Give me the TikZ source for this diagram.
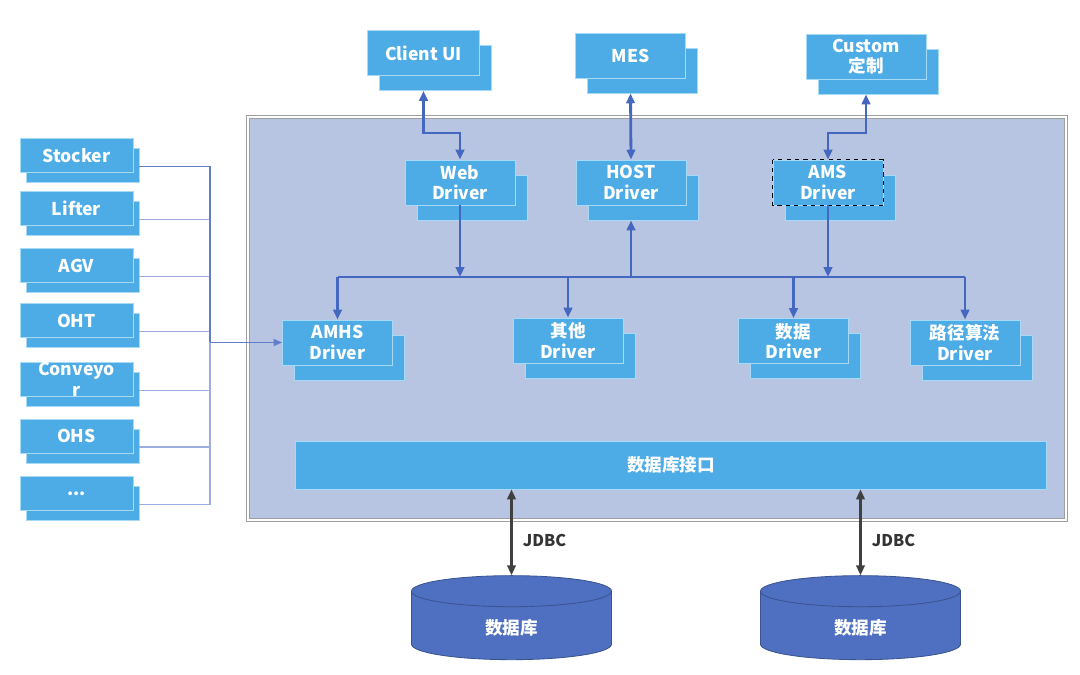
\documentclass[tikz,border=0pt]{standalone}
\usepackage{fontspec}
\setmainfont{Noto Sans CJK SC}
\usepackage{tikz}
\usetikzlibrary{positioning,arrows.meta,shapes.geometric,shadows,calc}
\usepackage{xcolor}
\definecolor{boxblue}{HTML}{4DABE6}
\definecolor{boxedge}{HTML}{A6DAF7}
\definecolor{panelblue}{HTML}{B8C5E2}
\definecolor{linkblue}{HTML}{4467BF}
\definecolor{feedblue}{HTML}{9CAEE0}
\definecolor{dbblue}{HTML}{4F70C0}

\begin{document}
\begin{tikzpicture}[x=0.025cm, y=-0.025cm,
    boxBase/.style={rectangle, fill=boxblue, draw=boxedge, line width=0.6pt, text=white, font=\fontsize{12.5}{14.5}\selectfont\bfseries, align=center, inner sep=0pt},
    unitBox/.style={boxBase, minimum width=2.75cm, minimum height=1.125cm, copy shadow={shadow xshift=0.3cm, shadow yshift=-0.375cm}},
    devBox/.style={boxBase, minimum width=2.825cm, minimum height=0.85cm, copy shadow={shadow xshift=0.15cm, shadow yshift=-0.25cm}},
    panelBox/.style={rectangle, fill=panelblue, draw=gray!75, line width=0.8pt, double=white, double distance=1.2pt, minimum width=20.45cm, minimum height=10.075cm},
    dbStore/.style={cylinder, shape border rotate=90, aspect=0.5, fill=dbblue, draw=dbblue!75!black, line width=0.6pt, text=white, font=\fontsize{12.5}{14.5}\selectfont\bfseries, minimum width=5cm, minimum height=2.1cm},
    linkArrow/.style={-{Triangle[length=7pt, width=6pt]}, line width=2pt, draw=linkblue},
    feedLine/.style={line width=0.8pt, draw=feedblue},
    jdbcArrow/.style={{Triangle[length=7pt, width=6pt]}-{Triangle[length=7pt, width=6pt]}, line width=1.6pt, draw=black!75}
]
    \useasboundingbox (0,0) rectangle (1080,675);

    % Main panel
    \node[panelBox] (core) at (657, 318.5) {};

    % Upper systems
    \node[unitBox, minimum width=2.8cm] (client) at (423.5, 53) {Client UI};
    \node[unitBox, minimum width=2.75cm] (mes) at (630.5, 55.5) {MES};
    \node[unitBox, minimum width=3cm] (custom) at (866, 56.5) {Custom\\定制};

    % Driver row 1
    \node[unitBox] (web) at (460, 182.5) {Web\\Driver};
    \node[unitBox] (host) at (631, 182.5) {HOST\\Driver};
    \node[unitBox] (ams) at (828, 182.5) {AMS\\Driver};
    \draw[black, dashed, line width=1pt] (ams.north west) rectangle (ams.south east);

    % Driver row 2
    \node[unitBox] (amhs) at (337.5, 342.5) {AMHS\\Driver};
    \node[unitBox] (other) at (568, 340.5) {其他\\Driver};
    \node[unitBox] (data) at (793.5, 341) {数据\\Driver};
    \node[unitBox] (route) at (965, 342.5) {路径算法\\Driver};

    % Database interface
    \node[boxBase, minimum width=18.75cm, minimum height=1.2cm, draw=boxedge] (dbif) at (671, 465) {数据库接口};

    % Devices
    \node[devBox] (stk) at (76.5, 155.5) {Stocker};
    \node[devBox] (lft) at (76.5, 208.5) {Lifter};
    \node[devBox] (agv) at (76.5, 265.5) {AGV};
    \node[devBox] (oht) at (76.5, 320.5) {OHT};
    \node[devBox] (cnv) at (76.5, 379.5) {Conveyo\\r};
    \node[devBox] (ohs) at (76.5, 436) {OHS};
    \node[devBox] (etc) at (76.5, 493.5) {...};

    % Databases
    \node[dbStore] (db1) at (511.5, 628) {数据库};
    \node[dbStore] (db2) at (860.5, 628) {数据库};

    \coordinate (upper) at (0, 133);
    \coordinate (busy) at (0, 277);
    \coordinate (feed) at (210, 342.5);

    % Upper links
    \draw[linkArrow, {Triangle[length=7pt, width=6pt]}-{Triangle[length=7pt, width=6pt]}] ($(client.south)+(0,15)$) |- (web.north |- upper) -- (web.north);
    \draw[linkArrow, {Triangle[length=7pt, width=6pt]}-{Triangle[length=7pt, width=6pt]}] ($(mes.south)+(0,15)$) -- (host.north);
    \draw[linkArrow, {Triangle[length=7pt, width=6pt]}-{Triangle[length=7pt, width=6pt]}] ($(custom.south)+(0,15)$) |- (ams.north |- upper) -- (ams.north);

    % Bus
    \draw[linkArrow, -] (amhs.north |- busy) -- (route.north |- busy);
    \draw[linkArrow] (web.south) -- (web.south |- busy);
    \draw[linkArrow] (host.south |- busy) -- ($(host.south)+(0,15)$);
    \draw[linkArrow] (ams.south) -- (ams.south |- busy);
    \draw[linkArrow] (amhs.north |- busy) -- (amhs.north);
    \draw[linkArrow] (other.north |- busy) -- (other.north);
    \draw[linkArrow] (data.north |- busy) -- (data.north);
    \draw[linkArrow] (route.north |- busy) -- (route.north);

    % Device feed
    \draw[feedLine] ($(lft.east)+(6,11)$) -| (feed);
    \draw[feedLine] ($(agv.east)+(6,11)$) -| (feed);
    \draw[feedLine] ($(oht.east)+(6,11)$) -| (feed);
    \draw[feedLine] ($(cnv.east)+(6,11)$) -| (feed);
    \draw[feedLine] ($(ohs.east)+(6,11)$) -| (feed);
    \draw[feedLine] ($(etc.east)+(6,11)$) -| (feed);
    \draw[feedLine, draw=linkblue!85] ($(stk.east)+(6,11)$) -| (feed);
    \draw[feedLine, draw=linkblue!85, -{Triangle[length=6pt, width=5pt]}] (feed) -- (amhs.west);

    % JDBC
    \draw[jdbcArrow] (dbif.south -| db1.north) -- (db1.north) node[pos=0.6, right=4pt, font=\fontsize{11.5}{13}\selectfont\bfseries, text=black!80] {JDBC};
    \draw[jdbcArrow] (dbif.south -| db2.north) -- (db2.north) node[pos=0.6, right=4pt, font=\fontsize{11.5}{13}\selectfont\bfseries, text=black!80] {JDBC};
\end{tikzpicture}
\end{document}
